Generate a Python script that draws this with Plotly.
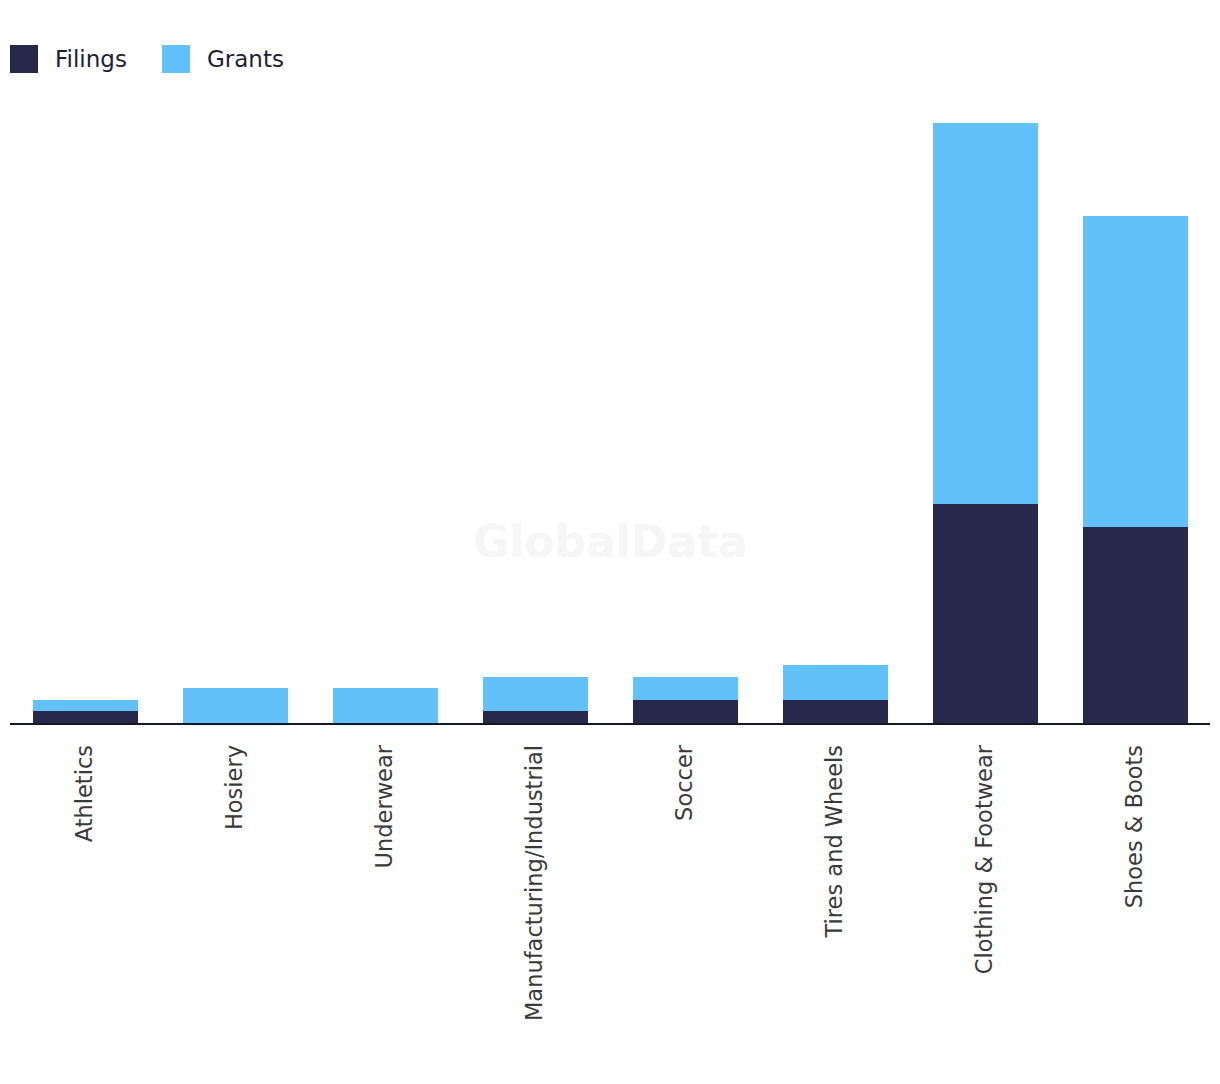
import plotly.graph_objects as go

categories = ["Athletics", "Hosiery", "Underwear", "Manufacturing/Industrial",
              "Soccer", "Tires and Wheels", "Clothing & Footwear", "Shoes & Boots"]
filings = [1, 0, 0, 1, 2, 2, 19, 17]
grants = [1, 3, 3, 3, 2, 3, 33, 27]

FILINGS_COLOR = "#27284A"
GRANTS_COLOR = "#63C1F9"
FONT = "DejaVu Sans"

fig = go.Figure()
fig.add_trace(go.Bar(name="Filings", x=categories, y=filings,
                     marker=dict(color=FILINGS_COLOR, line=dict(width=0))))
fig.add_trace(go.Bar(name="Grants", x=categories, y=grants,
                     marker=dict(color=GRANTS_COLOR, line=dict(width=0))))

# page has an 8px body margin
W, H = 1212, 1076
mt, mb, ml, mr = 92, 361, 2, 10
plot_h = H - mt - mb
UNIT_PX = 11.53

fig.update_layout(
    width=W, height=H,
    barmode="stack", bargap=0.3,
    paper_bgcolor="white", plot_bgcolor="white",
    margin=dict(l=ml, r=mr, t=mt, b=mb, pad=0),
    showlegend=False,
    font=dict(family=FONT, color="#333333"),
    xaxis=dict(tickangle=-90, tickfont=dict(size=22.5, color="#3a3a3a", family=FONT),
               showline=True, linecolor="#15162B", linewidth=2,
               ticks="outside", ticklen=11, tickcolor="rgba(0,0,0,0)",
               showgrid=False, zeroline=False),
    yaxis=dict(range=[0, plot_h / UNIT_PX], visible=False, showgrid=False,
               zeroline=False),
)


def py(ypix_page):
    return (H - mb - (ypix_page - 8)) / plot_h


def px(xpix_page):
    return ((xpix_page - 8) - ml) / (W - ml - mr)


# Watermark
fig.add_annotation(text="<b>GlobalData</b>", xref="paper", yref="paper",
                   x=px(610), y=py(541), xanchor="center", yanchor="middle",
                   showarrow=False,
                   font=dict(size=44, color="#F6F6F6", family=FONT))

# Legend (custom, large squares)
for x0, name, col in [(10, "Filings", FILINGS_COLOR), (162, "Grants", GRANTS_COLOR)]:
    fig.add_shape(type="rect", xref="paper", yref="paper",
                  x0=px(x0), x1=px(x0 + 28), y0=py(73), y1=py(45),
                  fillcolor=col, line=dict(width=0))
    fig.add_annotation(text=name, xref="paper", yref="paper",
                       x=px(x0 + 43), y=py(59), xanchor="left", yanchor="middle",
                       showarrow=False,
                       font=dict(size=23, color="#1f2033", family=FONT))

fig.write_html("out.html")
